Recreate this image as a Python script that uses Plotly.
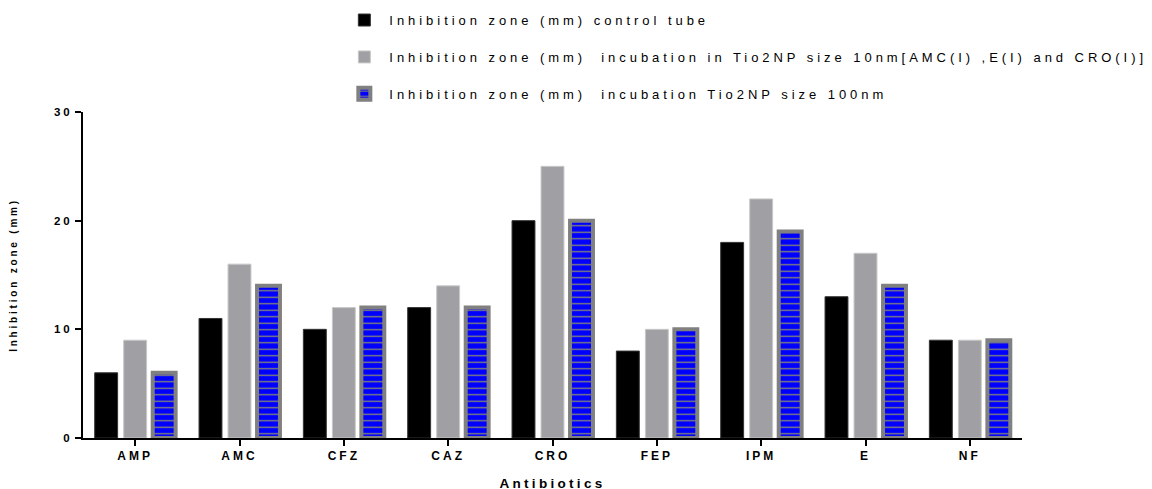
import plotly.graph_objects as go

categories = ["AMP", "AMC", "CFZ", "CAZ", "CRO", "FEP", "IPM", "E", "NF"]
control = [6, 11, 10, 12, 20, 8, 18, 13, 9]
tio2_10nm = [9, 16, 12, 14, 25, 10, 22, 17, 9]
tio2_100nm = [6, 14, 12, 12, 20, 10, 19, 14, 9]
y_ticks = [0, 10, 20, 30]

names = [
    "Inhibition zone (mm) control tube",
    "Inhibition zone (mm)  incubation in Tio2NP size 10nm[AMC(I) ,E(I) and CRO(I)]",
    "Inhibition zone (mm)  incubation Tio2NP size 100nm",
]


def spaced(t, ls):
    return '<span style="letter-spacing:%spx">%s</span>' % (ls, t)


LS = 3.95
fig = go.Figure()
fig.add_trace(go.Bar(x=categories, y=control, name=spaced(names[0], LS), legendgroup="a",
                     marker=dict(color="#000000", line=dict(color="#333333", width=1))))
fig.add_trace(go.Bar(x=categories, y=tio2_10nm, name=spaced(names[1], LS), legendgroup="b",
                     marker=dict(color="#a0a0a4", line=dict(color="#c8c8c8", width=1))))
fig.add_trace(go.Bar(x=categories, y=tio2_100nm, name=spaced(names[2], LS), legendgroup="c",
                     marker=dict(color="#0000ff", line=dict(color="#808080", width=4),
                                 pattern=dict(shape="-", bgcolor="#0000ff", fgcolor="#8a8a70",
                                              size=6.5, solidity=0.2, fillmode="replace"))))

font_b = "Liberation Sans"
fig.update_layout(
    width=1152, height=489,
    paper_bgcolor="white", plot_bgcolor="white",
    margin=dict(l=75, r=138, t=104, b=59, autoexpand=False),
    barmode="group", bargap=0.166, bargroupgap=0.21,
    font=dict(family=font_b, color="black"),
    legend=dict(x=0.273, y=1.328, xref="paper", yref="paper", yanchor="top",
                xanchor="left", traceorder="grouped", tracegroupgap=17,
                font=dict(family=font_b, size=13, color="black"),
                itemwidth=40, bgcolor="rgba(0,0,0,0)"),
    xaxis=dict(range=[-0.5, 8.5], showline=True, linecolor="black", linewidth=2,
               tickvals=categories, ticktext=[spaced(c, 3) for c in categories],
               ticks="outside", ticklen=6, tickwidth=2, tickcolor="black",
               tickfont=dict(family=font_b, size=12, color="black", weight="bold"),
               title=dict(text=spaced("Antibiotics", 3.3),
                          font=dict(size=13.5, family=font_b, weight="bold"), standoff=16),
               showgrid=False, zeroline=False),
    yaxis=dict(range=[0, 30], tickvals=y_ticks, ticktext=[spaced(str(v), 3) for v in y_ticks],
               showline=True, linecolor="black",
               linewidth=2, ticks="outside", ticklen=6, tickwidth=2, tickcolor="black",
               tickfont=dict(family=font_b, size=11.5, color="black", weight="bold"),
               title=dict(text=spaced("Inhibition zone (mm)", 2.8),
                          font=dict(size=10, family=font_b, weight="bold"), standoff=36),
               showgrid=False, zeroline=False),
)

fig.write_html("out.html")
